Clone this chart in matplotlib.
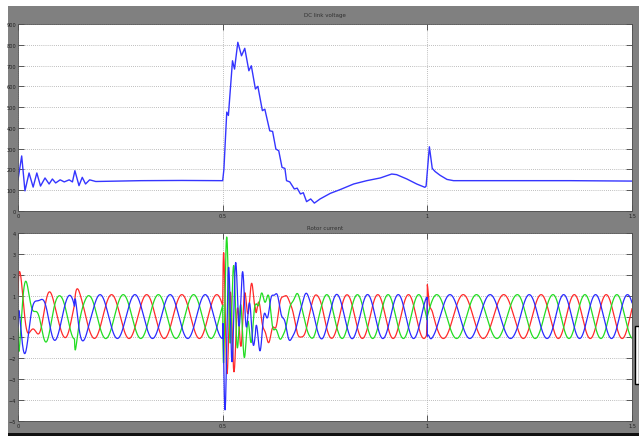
import matplotlib
matplotlib.use('Agg')
import matplotlib.pyplot as plt
import numpy as np
from matplotlib.patches import Rectangle

# ---------------- data ----------------
x_ticks = [0, 0.5, 1, 1.5]
x_tick_labels = ['0', '0.5', '1', '1.5']
v_ticks = [0, 100, 200, 300, 400, 500, 600, 700, 800, 900]
i_ticks = [-5, -4, -3, -2, -1, 0, 1, 2, 3, 4]

# DC link voltage: (time, volts) points
vdc_t = [0.000, 0.009, 0.017, 0.027, 0.037, 0.046, 0.055, 0.066, 0.076, 0.084,
         0.092, 0.103, 0.113, 0.125, 0.133, 0.139, 0.149, 0.157, 0.165, 0.175,
         0.190, 0.300, 0.400, 0.500, 0.503, 0.510, 0.514, 0.524, 0.529, 0.537,
         0.546, 0.554, 0.564, 0.570, 0.580, 0.586, 0.597, 0.603, 0.615, 0.622,
         0.630, 0.637, 0.645, 0.652, 0.656, 0.664, 0.675, 0.682, 0.690, 0.697,
         0.705, 0.715, 0.724, 0.738, 0.763, 0.787, 0.820, 0.852, 0.885, 0.913,
         0.925, 0.950, 0.974, 0.994, 0.997, 1.005, 1.012, 1.019, 1.031, 1.048,
         1.064, 1.200, 1.350, 1.500]
vdc_v = [150, 265, 97, 183, 115, 183, 120, 159, 130, 154,
         135, 150, 140, 150, 140, 194, 122, 162, 130, 150,
         142, 146, 147, 146, 200, 476, 460, 723, 683, 812,
         747, 783, 675, 699, 587, 600, 483, 490, 386, 383,
         298, 290, 210, 205, 146, 140, 106, 110, 82, 88,
         45, 58, 38, 58, 85, 103, 130, 146, 159, 178,
         175, 154, 130, 114, 120, 309, 205, 190, 172, 152,
         146, 146, 146, 144]

# Rotor current: times of the green-phase positive peaks (before / after t=1 s)
green_peaks_a = [-0.056, 0.029, 0.103, 0.172, 0.257, 0.343, 0.429, 0.514,
                 0.600, 0.680, 0.754, 0.829, 0.904, 0.979, 1.054]
green_peaks_b = [0.930, 1.023, 1.120, 1.220, 1.307, 1.385, 1.463, 1.541]
amp_t = [0.0, 0.5, 1.0, 1.5]
amp_v = [1.05, 1.05, 1.05, 1.05]
switch_time = 1.0

# transient bursts riding on the currents (start, freq Hz, decay s, amplitudes, phases)
burst_start = [0.000, 0.138, 0.500, 0.580, 0.998]
burst_freq = [28.0, 30.0, 58.0, 40.0, 70.0]
burst_tau = [0.035, 0.012, 0.040, 0.060, 0.004]
burst_amp_green = [1.6, 0.8, 3.6, 0.35, 0.0]
burst_amp_blue = [1.2, 0.7, 4.1, 0.35, 0.4]
burst_amp_red = [1.3, 0.6, 3.2, 0.35, 1.2]
burst_ph_green = [-1.6, -1.6, -2.07, 0.0, 0.0]
burst_ph_blue = [1.6, 1.2, 2.52, 2.1, -1.0]
burst_ph_red = [0.8, 0.4, 0.84, 4.2, 0.6]

# ---------------- figure ----------------
W, H = 639, 439
fig = plt.figure(figsize=(W / 100, H / 100), dpi=100, facecolor='white')
fig.patches.append(Rectangle((8 / W, 1 - 434 / H), (W - 8) / W, (434 - 7) / H,
                             transform=fig.transFigure, facecolor='#808080',
                             edgecolor='none', zorder=-10))
fig.patches.append(Rectangle((8 / W, 1 - 437 / H), (W - 8) / W, 3 / H,
                             transform=fig.transFigure, facecolor='#101010',
                             edgecolor='none', zorder=-10))
fig.patches.append(Rectangle((635 / W, 1 - 385 / H), 4 / W, 58 / H,
                             transform=fig.transFigure, facecolor='white',
                             edgecolor='black', lw=1.0, zorder=5))

ax1 = fig.add_axes([18 / W, 1 - 212 / H, 614 / W, 187 / H])
ax2 = fig.add_axes([18 / W, 1 - 422 / H, 614 / W, 188 / H])


def style(ax, yt):
    ax.set_facecolor('white')
    ax.set_xlim(0, 1.5)
    ax.set_xticks(x_ticks)
    ax.set_xticklabels(x_tick_labels)
    ax.set_yticks(yt)
    ax.set_ylim(yt[0], yt[-1])
    ax.grid(True, linestyle=(0, (1, 1.5)), color='#a8a8a8', lw=0.6)
    ax.tick_params(direction='in', length=4, width=0.6, color='#404040',
                   labelsize=3.6, labelcolor='#202020', right=True, top=True, pad=1.5)
    for s in ax.spines.values():
        s.set_color('#505050')
        s.set_linewidth(0.6)


style(ax1, v_ticks)
style(ax2, i_ticks)

# DC link voltage
ax1.plot(vdc_t, vdc_v, color='#3535ff', lw=1.0)

# Rotor currents
t = np.arange(0, 1.5001, 0.0004)
theta = np.where(t < switch_time,
                 2 * np.pi * np.interp(t, green_peaks_a, np.arange(len(green_peaks_a))),
                 2 * np.pi * np.interp(t, green_peaks_b, np.arange(len(green_peaks_b))))
amp = np.interp(t, amp_t, amp_v)


def burst(amps, phs):
    out = np.zeros_like(t)
    for t0, f, tau, a, ph in zip(burst_start, burst_freq, burst_tau, amps, phs):
        dt = t - t0
        m = dt >= 0
        env = np.exp(-dt[m] / tau) * (1 - np.exp(-dt[m] / 0.001))
        out[m] += a * env * np.sin(2 * np.pi * f * dt[m] + ph)
    return out


i_green = amp * np.cos(theta) + burst(burst_amp_green, burst_ph_green)
i_blue = amp * np.cos(theta - 2 * np.pi / 3) + burst(burst_amp_blue, burst_ph_blue)
i_red = amp * np.cos(theta - 4 * np.pi / 3) + burst(burst_amp_red, burst_ph_red)

ax2.plot(t, i_red, color='#ff2a2a', lw=0.9)
ax2.plot(t, i_green, color='#22dd22', lw=0.9)
ax2.plot(t, i_blue, color='#2a2aff', lw=0.9)

fig.text(325 / W, 1 - 16 / H, 'DC link voltage', ha='center', va='center',
         fontsize=4, color='#303030')
fig.text(325 / W, 1 - 229 / H, 'Rotor current', ha='center', va='center',
         fontsize=4, color='#303030')

fig.savefig('out.png', dpi=100, facecolor=fig.get_facecolor())
